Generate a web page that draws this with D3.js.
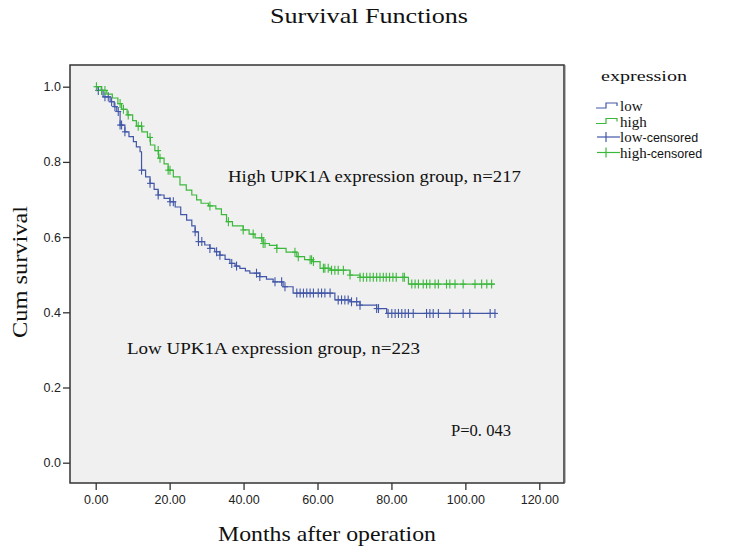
<!DOCTYPE html>
<html lang="en">
<head>
  <meta charset="UTF-8">
  <title>Survival Functions</title>
  <style>
    *{margin:0;padding:0}
    body{background:#fff;width:729px;height:551px;overflow:hidden}
    .mono{font-family:'Liberation Serif','DejaVu Serif',serif;fill:#111}
    .sans{font-family:'Liberation Sans',Arial,sans-serif}
    .tick text{font-family:'Liberation Sans',Arial,sans-serif;font-size:12.5px;fill:#222}
    .tick line{stroke:#333;stroke-width:1.3}
  </style>
  <script src="https://cdn.jsdelivr.net/npm/d3@7"></script>
</head>
<body>
  <div id="chart"></div>
  <script>
    /* ---------- DATA ---------- */
    // event times (months) and survival level after each drop
    const highTimes = [1.5,3,4.5,6,7,8.5,10,11,12.5,14,14.8,16,17,18.5,19.6,21,22.8,24.5,26,27.3,28.5,30.5,32.5,34,35.4,37,39.9,41.5,43.1,45.3,47,49,51.5,54.4,56.5,58.8,60.7,63.4,68.8,71.5,84.6];
    const highSurv  = [0.99,0.98,0.97,0.955,0.94,0.925,0.91,0.895,0.88,0.865,0.845,0.83,0.81,0.795,0.778,0.76,0.739,0.725,0.712,0.699,0.69,0.683,0.675,0.66,0.641,0.63,0.619,0.608,0.598,0.583,0.578,0.57,0.56,0.548,0.54,0.535,0.517,0.512,0.499,0.493,0.475];
    const highEnd   = 108;
    const highCens  = [0.2,1.6,2.5,6.6,7.5,8.8,11.5,12.4,14.7,16.9,17.4,19.6,20.1,30.9,35.9,39.9,42.6,44.9,45.3,45.8,49,53.9,54.8,58,58.4,58.9,61.6,62,62.9,63.8,64.7,65.6,67,68.8,71.5,72.4,73.3,74.2,75.1,76,76.9,77.8,78.6,79.5,80.4,81.3,83.1,83.5,85.5,86.4,87.3,88.6,89.5,90.4,91.8,92.7,94.9,95.8,97.2,99.4,102.6,104.4,105.8,107.1];

    const lowTimes = [0.7,2,3.9,5,5.7,6.6,7.9,9,10.2,11,12,12.4,13.5,14.7,15.8,16.9,18.5,20.1,21.5,23,24.6,26,26.9,27.8,29.5,30.9,32.2,33.6,35,36.3,37.7,39,40.5,41.7,44.4,46.2,48,50.7,53.4,64.7,68.8,71.5,76,78.7];
    const lowSurv  = [0.99,0.973,0.96,0.947,0.934,0.898,0.88,0.867,0.854,0.84,0.827,0.778,0.76,0.743,0.727,0.712,0.703,0.694,0.68,0.66,0.645,0.63,0.614,0.588,0.579,0.57,0.561,0.552,0.541,0.53,0.523,0.517,0.51,0.504,0.495,0.488,0.481,0.468,0.451,0.433,0.428,0.419,0.41,0.397];
    const lowEnd   = 108.3;
    const lowCens  = [0.7,1.6,2.5,3.4,4.3,5.2,6.1,6.6,7,7.9,12.4,14.7,16.9,20.1,21,26.9,27.8,28.7,30.9,32.7,33.6,36.8,38.1,43.5,44.4,48.5,50.3,51.2,54.4,55.3,56.2,57.1,58,58.9,60.2,61.1,62,63.4,65.6,66.5,67.4,68.3,69.2,70.6,71.5,76,76.5,79.1,80.1,81,81.9,82.8,83.7,84.6,85.9,89.5,90.4,91.3,92.7,95.8,99.4,101.2,106.7,108];

    const xTicks = [0,20,40,60,80,100,120];
    const yTicks = [0,0.2,0.4,0.6,0.8,1.0];
    const legendItems = [
      {name:'low', suffix:'', kind:'step', color:'#4257a8'},
      {name:'high', suffix:'', kind:'step', color:'#3cb83c'},
      {name:'low', suffix:'-censored', kind:'cens', color:'#4257a8'},
      {name:'high', suffix:'-censored', kind:'cens', color:'#3cb83c'}
    ];

    /* ---------- SETUP ---------- */
    const W=729,H=551;
    const frame={x0:70,x1:564,y0:65,y1:483};
    const svg=d3.select('#chart').append('svg').attr('width',W).attr('height',H);
    const x=d3.scaleLinear().domain([0,120]).range([95.7,539.3]);
    const y=d3.scaleLinear().domain([0,1]).range([462.7,86.7]);

    // plot area
    svg.append('rect').attr('x',frame.x0).attr('y',frame.y0)
       .attr('width',frame.x1-frame.x0).attr('height',frame.y1-frame.y0)
       .attr('fill','#f0f0f0').attr('stroke','#333').attr('stroke-width',1.5);
    svg.append('line').attr('x1',frame.x1+1.5).attr('x2',frame.x1+1.5).attr('y1',frame.y0).attr('y2',frame.y1)
       .attr('stroke','#bbb').attr('stroke-width',1);

    /* ---------- AXES ---------- */
    const gx=svg.append('g').attr('transform',`translate(0,${frame.y1})`)
      .call(d3.axisBottom(x).tickValues(xTicks).tickSize(7).tickPadding(5).tickFormat(d3.format('.2f')));
    gx.select('.domain').remove();
    const gy=svg.append('g').attr('transform',`translate(${frame.x0},0)`)
      .call(d3.axisLeft(y).tickValues(yTicks).tickSize(7).tickPadding(2).tickFormat(d3.format('.1f')));
    gy.select('.domain').remove();

    /* ---------- CURVES ---------- */
    function stepPoints(times,surv,end){
      const pts=[[0,1]];
      times.forEach((t,i)=>pts.push([t,surv[i]]));
      pts.push([end,surv[surv.length-1]]);
      return pts;
    }
    function survAt(times,surv,t){
      let s=1;
      times.forEach((tt,i)=>{if(tt<=t)s=surv[i]});
      return s;
    }
    const line=d3.line().x(d=>x(d[0])).y(d=>y(d[1])).curve(d3.curveStepAfter);

    function drawGroup(times,surv,end,cens,color){
      svg.append('path').datum(stepPoints(times,surv,end))
         .attr('d',line).attr('fill','none').attr('stroke',color).attr('stroke-width',1.2);
      const g=svg.append('g').attr('stroke',color).attr('stroke-width',1.1);
      cens.forEach(t=>{
        const cx=x(t),cy=y(survAt(times,surv,t));
        g.append('line').attr('x1',cx).attr('x2',cx).attr('y1',cy-4.5).attr('y2',cy+4.5);
        g.append('line').attr('x1',cx-3).attr('x2',cx+3).attr('y1',cy).attr('y2',cy);
      });
    }
    drawGroup(lowTimes,lowSurv,lowEnd,lowCens,'#4257a8');
    drawGroup(highTimes,highSurv,highEnd,highCens,'#3cb83c');

    /* ---------- TEXTS ---------- */
    svg.append('text').attr('class','mono').attr('x',270).attr('y',23)
       .attr('font-size',21).attr('textLength',198).attr('lengthAdjust','spacingAndGlyphs')
       .text('Survival Functions');
    svg.append('text').attr('class','mono').attr('x',218).attr('y',541)
       .attr('font-size',21).attr('textLength',218).attr('lengthAdjust','spacingAndGlyphs')
       .text('Months after operation');
    svg.append('text').attr('class','mono')
       .attr('transform','translate(27,272) rotate(-90)').attr('text-anchor','middle')
       .attr('font-size',21).attr('textLength',132).attr('lengthAdjust','spacingAndGlyphs')
       .text('Cum survival');
    svg.append('text').attr('class','mono').attr('x',228).attr('y',182)
       .attr('font-size',16).attr('textLength',293).attr('lengthAdjust','spacingAndGlyphs')
       .text('High UPK1A expression group, n=217');
    svg.append('text').attr('class','mono').attr('x',127).attr('y',354)
       .attr('font-size',16).attr('textLength',293).attr('lengthAdjust','spacingAndGlyphs')
       .text('Low UPK1A expression group, n=223');
    svg.append('text').attr('class','mono').attr('x',451).attr('y',436)
       .attr('font-size',16).attr('textLength',60).attr('lengthAdjust','spacingAndGlyphs')
       .text('P=0. 043');

    /* ---------- LEGEND ---------- */
    svg.append('text').attr('class','mono').attr('x',601).attr('y',81)
       .attr('font-size',15).attr('textLength',86).attr('lengthAdjust','spacingAndGlyphs')
       .text('expression');
    legendItems.forEach((it,i)=>{
      const ly=106+i*15.5;
      if(it.kind==='step'){
        svg.append('path').attr('d',`M596,${ly+2}H606V${ly-3}H617V${ly}`)
           .attr('fill','none').attr('stroke',it.color).attr('stroke-width',1.2);
      }else{
        svg.append('line').attr('x1',597).attr('x2',620).attr('y1',ly).attr('y2',ly).attr('stroke',it.color).attr('stroke-width',1.2);
        svg.append('line').attr('x1',606).attr('x2',606).attr('y1',ly-5).attr('y2',ly+5).attr('stroke',it.color).attr('stroke-width',1.2);
      }
      const t=svg.append('text').attr('x',620).attr('y',ly+5).attr('font-size',15);
      t.append('tspan').attr('class','mono').text(it.name);
      if(it.suffix) t.append('tspan').attr('class','sans').attr('font-size',12.5).attr('fill','#111').text(it.suffix);
    });
  </script>
</body>
</html>
